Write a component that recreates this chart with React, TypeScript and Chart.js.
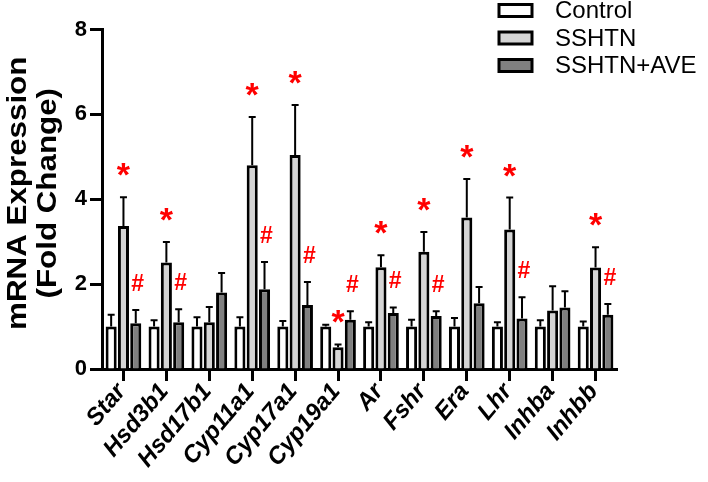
import React, { useEffect, useRef } from 'react';
import { Chart, registerables } from 'chart.js';

Chart.register(...registerables);

const genes = ['Star', 'Hsd3b1', 'Hsd17b1', 'Cyp11a1', 'Cyp17a1', 'Cyp19a1', 'Ar', 'Fshr', 'Era', 'Lhr', 'Inhba', 'Inhbb'];
const seriesNames = ['Control', 'SSHTN', 'SSHTN+AVE'];
const controlMean = [1, 1, 1, 1, 1, 1, 1, 1, 1, 1, 1, 1];
const controlSem = [0.28, 0.15, 0.22, 0.22, 0.13, 0.04, 0.1, 0.16, 0.2, 0.1, 0.15, 0.12];
const sshtnMean = [3.37, 2.51, 1.1, 4.8, 5.04, 0.51, 2.4, 2.76, 3.57, 3.29, 1.38, 2.39];
const sshtnSem = [0.68, 0.48, 0.36, 1.14, 1.18, 0.07, 0.28, 0.47, 0.91, 0.75, 0.57, 0.48];
const aveMean = [1.08, 1.1, 1.8, 1.88, 1.51, 1.16, 1.32, 1.25, 1.55, 1.19, 1.45, 1.28];
const aveSem = [0.31, 0.31, 0.46, 0.64, 0.54, 0.2, 0.13, 0.11, 0.38, 0.5, 0.38, 0.25];
const sshtnVsControl = [true, true, false, true, true, true, true, true, true, true, false, true];
const aveVsSshtn = [true, true, false, true, true, true, true, true, false, true, false, true];
const yTicks = [0, 2, 4, 6, 8];
const yTitleLines = ['mRNA Expression', '(Fold Change)'];

const FONT = "'Liberation Sans', Arial, Helvetica, sans-serif";
const fillColors = ['#ffffff', '#d4d4d4', '#808080'];
const sems = [controlSem, sshtnSem, aveSem];

const errorBarPlugin = {
  id: 'errorBars',
  afterDatasetsDraw(chart: any) {
    const ctx = chart.ctx;
    const yScale = chart.scales.y;
    ctx.save();
    ctx.strokeStyle = '#000';
    ctx.lineWidth = 2;
    chart.data.datasets.forEach((ds: any, di: number) => {
      const meta = chart.getDatasetMeta(di);
      meta.data.forEach((el: any, i: number) => {
        const top = yScale.getPixelForValue(ds.data[i] + sems[di][i]);
        ctx.beginPath();
        ctx.moveTo(el.x, el.y);
        ctx.lineTo(el.x, top);
        ctx.moveTo(el.x - 3.5, top);
        ctx.lineTo(el.x + 3.5, top);
        ctx.stroke();
      });
    });
    ctx.restore();
  },
};

const markerPlugin = {
  id: 'markers',
  afterDatasetsDraw(chart: any) {
    const ctx = chart.ctx;
    const yScale = chart.scales.y;
    ctx.save();
    ctx.fillStyle = '#ff0000';
    ctx.textAlign = 'center';
    ctx.textBaseline = 'alphabetic';
    const m1 = chart.getDatasetMeta(1);
    const m2 = chart.getDatasetMeta(2);
    ctx.font = `bold 34px ${FONT}`;
    sshtnVsControl.forEach((flag, i) => {
      if (!flag) return;
      const top = yScale.getPixelForValue(sshtnMean[i] + sshtnSem[i]);
      ctx.fillText('*', m1.data[i].x, top - 11);
    });
    ctx.font = `bold 23px ${FONT}`;
    aveVsSshtn.forEach((flag, i) => {
      if (!flag) return;
      const top = yScale.getPixelForValue(aveMean[i] + aveSem[i]);
      ctx.fillText('#', m2.data[i].x + 2, top - 19);
    });
    ctx.restore();
  },
};

const legendPlugin = {
  id: 'customLegend',
  afterDraw(chart: any) {
    const ctx = chart.ctx;
    ctx.save();
    const rows = [10.5, 38, 65.5];
    chart.data.datasets.forEach((ds: any, di: number) => {
      const cy = rows[di];
      ctx.fillStyle = ds.backgroundColor;
      ctx.fillRect(499, cy - 6, 33, 12);
      ctx.strokeStyle = '#000';
      ctx.lineWidth = 3;
      ctx.strokeRect(499, cy - 6, 33, 12);
      ctx.fillStyle = '#000';
      ctx.font = `24px ${FONT}`;
      ctx.textAlign = 'left';
      ctx.textBaseline = 'middle';
      ctx.fillText(ds.label, 555, cy + 1);
    });
    ctx.restore();
  },
};

const yTitlePlugin = {
  id: 'yTitle',
  afterDraw(chart: any) {
    const ctx = chart.ctx;
    const area = chart.chartArea;
    ctx.save();
    ctx.translate(34, (area.top + area.bottom) / 2 - 6);
    ctx.rotate(-Math.PI / 2);
    ctx.scale(1.16, 1);
    ctx.fillStyle = '#000';
    ctx.font = `bold 27px ${FONT}`;
    ctx.textAlign = 'center';
    ctx.textBaseline = 'middle';
    ctx.fillText(yTitleLines[0], 0, -15);
    ctx.fillText(yTitleLines[1], 0, 15);
    ctx.restore();
  },
};

export default function App() {
  const ref = useRef<HTMLCanvasElement | null>(null);
  useEffect(() => {
    if (!ref.current) return;
    Chart.defaults.font.family = FONT;
    const chart = new Chart(ref.current, {
      type: 'bar',
      data: {
        labels: genes,
        datasets: [controlMean, sshtnMean, aveMean].map((d, i) => ({
          label: seriesNames[i],
          data: d,
          backgroundColor: fillColors[i],
          borderColor: '#000',
          borderWidth: 3,
          categoryPercentage: 0.86,
          barPercentage: 0.9,
        })),
      },
      options: {
        animation: false,
        responsive: false,
        devicePixelRatio: 1,
        layout: { padding: { top: 29.5, right: 91, left: 0, bottom: 0 } },
        plugins: { legend: { display: false }, tooltip: { enabled: false } },
        scales: {
          x: {
            offset: true,
            grid: { offset: false, drawOnChartArea: false, tickLength: 12, tickWidth: 3, tickColor: '#000' },
            border: { display: true, width: 3, color: '#000' },
            ticks: {
              autoSkip: false,
              minRotation: 50,
              maxRotation: 50,
              padding: -3,
              labelOffset: -2,
              color: '#000',
              font: { family: FONT, size: 24, weight: 'bold', style: 'italic' },
            },
            afterFit: (s: any) => { s.height = 113; },
          },
          y: {
            min: 0,
            max: 8,
            afterBuildTicks: (s: any) => { s.ticks = yTicks.map((v) => ({ value: v })); },
            ticks: { padding: 3, color: '#000', font: { family: FONT, size: 22, weight: 'bold' } },
            grid: { drawOnChartArea: false, tickLength: 12, tickWidth: 3, tickColor: '#000' },
            border: { display: true, width: 3, color: '#000' },
            afterFit: (s: any) => { s.width = 102; },
          },
        },
      } as any,
      plugins: [errorBarPlugin, markerPlugin, legendPlugin, yTitlePlugin],
    });
    return () => chart.destroy();
  }, []);
  return (
    <div style={{ position: 'fixed', left: 0, top: 0, width: 708, height: 482, background: '#fff' }}>
      <canvas ref={ref} width={708} height={482} />
    </div>
  );
}
